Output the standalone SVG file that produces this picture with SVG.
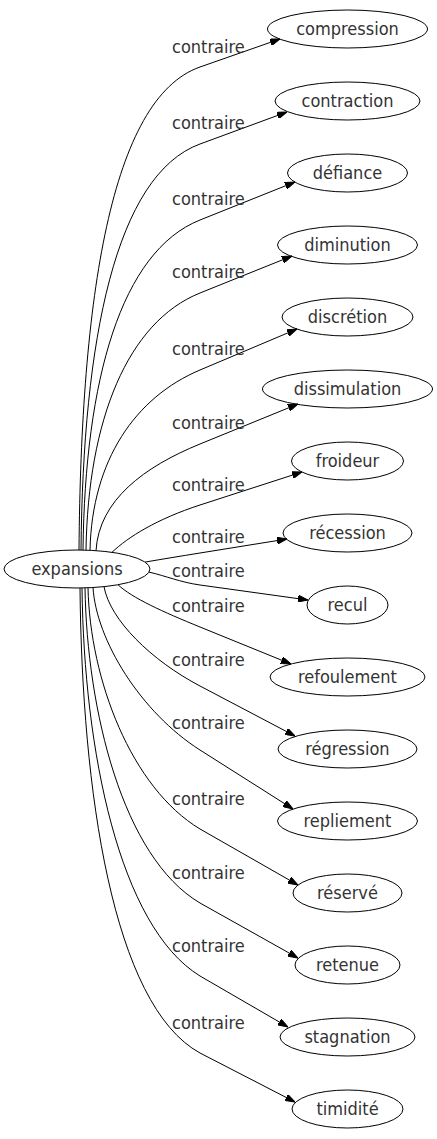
<svg xmlns="http://www.w3.org/2000/svg" width="437" height="1139" viewBox="0 0 437 1139">
<style>
  .node ellipse { fill: none; stroke: #000; stroke-width: 1; }
  .node text { font-family: "DejaVu Sans Condensed", "Open Sans", sans-serif; font-size: 18px; fill: #333; text-anchor: middle; }
  .edges path { fill: none; stroke: #000; stroke-width: 1; marker-end: url(#arrow); }
  .edges text { font-family: "DejaVu Sans Condensed", "Open Sans", sans-serif; font-size: 18px; fill: #333; text-anchor: start; }
</style>
<defs>
  <marker id="arrow" viewBox="0 0 10 7" refX="10" refY="3.5" markerWidth="10" markerHeight="7" markerUnits="userSpaceOnUse" orient="auto">
    <path d="M0,0 L10,3.5 L0,7 z" fill="#000" stroke="#000" stroke-width="1"/>
  </marker>
</defs>
<rect width="437" height="1139" fill="#fff"/>
<g id="connectors" class="edges">
  <path d="M79,550 C81,300 110.4,98.4 200,67 C226.7,57.7 253.3,48.3 280,39"/>
  <path d="M81,550 C83,340 115.5,175 200,144 C229,133.3 258,122.7 287,112"/>
  <path d="M83,550.1 C85,380 121,251.5 200,220 C231.7,207.3 263.3,194.7 295,182"/>
  <path d="M86,550.1 C88,420 127.6,322.1 200,293 C230.7,280.7 261.3,268.3 292,256"/>
  <path d="M90,550.3 C92,460 135.5,397.2 200,370 C232.3,356.3 264.7,342.7 297,329"/>
  <path d="M96,550.7 C99,500 144.4,466.7 200,444 C232.7,430.7 265.3,417.3 298,404"/>
  <path d="M112,552.3 C128,537 157.2,518.9 200,505 C234,494 268,483 302,472"/>
  <path d="M145,562.1 C163,559 180.3,556.2 200,553 C229,548.3 258,543.7 287,539"/>
  <path d="M149,572.1 C166,576 180.2,582.2 200,585 C236,590 272,595 308,600"/>
  <path d="M118,584.7 C132,598 163,611.9 200,627 C230.3,639.3 260.7,651.7 291,664"/>
  <path d="M104,586.6 C110,620 151.3,660.4 200,686 C231.7,702.7 263.3,719.3 295,736"/>
  <path d="M93,587.1 C96,640 140.9,712.5 200,750 C231,769.7 262,789.3 293,809"/>
  <path d="M88,587.6 C90,680 131.4,787.7 200,829 C232.7,847.7 265.3,866.3 298,885"/>
  <path d="M85,587.9 C87,710 122.5,857.2 200,903 C232.7,921.3 265.3,939.7 298,958"/>
  <path d="M82,588 C84,750 119,926.3 200,976 C229.3,993 258.7,1010 288,1027"/>
  <path d="M80,588 C82,790 112.3,1005 200,1053 C231.7,1069.3 263.3,1085.7 295,1102"/>
  <text x="172" y="53">contraire</text>
  <text x="172" y="129">contraire</text>
  <text x="172" y="205">contraire</text>
  <text x="172" y="278">contraire</text>
  <text x="172" y="355">contraire</text>
  <text x="172" y="429">contraire</text>
  <text x="172" y="491">contraire</text>
  <text x="172" y="543">contraire</text>
  <text x="172" y="577">contraire</text>
  <text x="172" y="612">contraire</text>
  <text x="172" y="666">contraire</text>
  <text x="172" y="729">contraire</text>
  <text x="172" y="805">contraire</text>
  <text x="172" y="879">contraire</text>
  <text x="172" y="952">contraire</text>
  <text x="172" y="1029">contraire</text>
</g>
<g id="expansions" class="node"><ellipse cx="77" cy="569" rx="73" ry="19"/><text x="77" y="575">expansions</text></g>
<g id="compression" class="node"><ellipse cx="347.5" cy="29" rx="80" ry="19"/><text x="347.5" y="35">compression</text></g>
<g id="contraction" class="node"><ellipse cx="347.5" cy="101" rx="72.5" ry="19"/><text x="347.5" y="107">contraction</text></g>
<g id="defiance" class="node"><ellipse cx="347.5" cy="173" rx="60" ry="19"/><text x="347.5" y="179">défiance</text></g>
<g id="diminution" class="node"><ellipse cx="347.5" cy="245" rx="70" ry="19"/><text x="347.5" y="251">diminution</text></g>
<g id="discretion" class="node"><ellipse cx="347.5" cy="317" rx="65.5" ry="19"/><text x="347.5" y="323">discrétion</text></g>
<g id="dissimulation" class="node"><ellipse cx="347.5" cy="389" rx="85" ry="19"/><text x="347.5" y="395">dissimulation</text></g>
<g id="froideur" class="node"><ellipse cx="347.5" cy="461" rx="56" ry="19"/><text x="347.5" y="467">froideur</text></g>
<g id="recession" class="node"><ellipse cx="347.5" cy="533" rx="64.5" ry="19"/><text x="347.5" y="539">récession</text></g>
<g id="recul" class="node"><ellipse cx="347.5" cy="605" rx="40.5" ry="19"/><text x="347.5" y="611">recul</text></g>
<g id="refoulement" class="node"><ellipse cx="347.5" cy="677" rx="77.5" ry="19"/><text x="347.5" y="683">refoulement</text></g>
<g id="regression" class="node"><ellipse cx="347.5" cy="749" rx="69.5" ry="19"/><text x="347.5" y="755">régression</text></g>
<g id="repliement" class="node"><ellipse cx="347.5" cy="821" rx="70" ry="19"/><text x="347.5" y="827">repliement</text></g>
<g id="reserve" class="node"><ellipse cx="347.5" cy="893" rx="54.5" ry="19"/><text x="347.5" y="899">réservé</text></g>
<g id="retenue" class="node"><ellipse cx="347.5" cy="965" rx="52.5" ry="19"/><text x="347.5" y="971">retenue</text></g>
<g id="stagnation" class="node"><ellipse cx="347.5" cy="1037" rx="67.5" ry="19"/><text x="347.5" y="1043">stagnation</text></g>
<g id="timidite" class="node"><ellipse cx="347.5" cy="1109" rx="55.5" ry="19"/><text x="347.5" y="1115">timidité</text></g>
</svg>
